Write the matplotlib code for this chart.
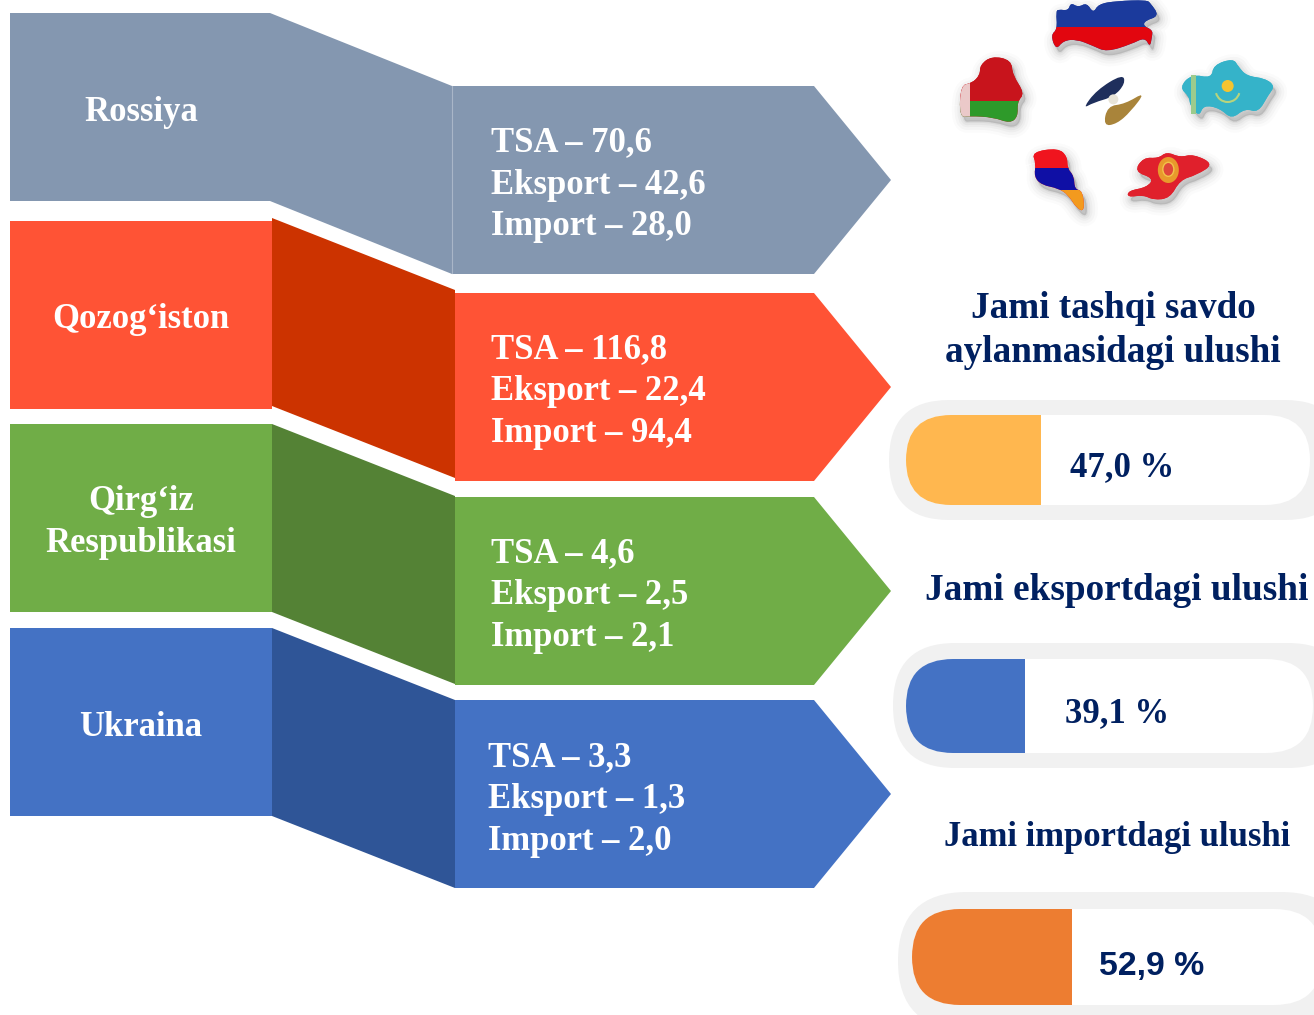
import matplotlib
matplotlib.use('Agg')
import matplotlib.pyplot as plt
from matplotlib.path import Path
from matplotlib.patches import Polygon, Rectangle, Circle, Ellipse, FancyBboxPatch, PathPatch, Arc

# --- data ---
countries = ['Rossiya', 'Qozog‘iston', 'Qirg‘iz\nRespublikasi', 'Ukraina']
tsa = [70.6, 116.8, 4.6, 3.3]
eksport = [42.6, 22.4, 2.5, 1.3]
imports = [28.0, 94.4, 2.1, 2.0]

share_titles = ['Jami tashqi savdo\naylanmasidagi ulushi', 'Jami eksportdagi ulushi', 'Jami importdagi ulushi']
shares = [47.0, 39.1, 52.9]

# --- colours ---
light = ['#8497B0', '#FF5335', '#70AD47', '#4472C4']
dark = ['#8497B0', '#CC3300', '#548235', '#2F5597']
share_colors = ['#FFB74F', '#4472C4', '#ED7D31']
navy = '#002060'
serif = 'Liberation Serif'


def comma(v):
    return f'{v:.1f}'.replace('.', ',')


fig = plt.figure(figsize=(13.14, 10.15), dpi=100)
ax = fig.add_axes([0, 0, 1, 1])
ax.set_xlim(0, 1314)
ax.set_ylim(1015, 0)
ax.axis('off')

# --- ribbons: left block, slanted band, arrow ---
rows = [
    dict(top=13, band=(13, 86), arrow=86, x0=452, rx=270, text_x=491, ys=(143, 185, 226), label_ys=(112,)),
    dict(top=221, band=(218, 290), arrow=293, x0=455, rx=272, text_x=491, ys=(350, 392, 434), label_ys=(320,)),
    dict(top=424, band=(424, 496), arrow=497, x0=455, rx=272, text_x=491, ys=(554, 596, 638), label_ys=(502, 544)),
    dict(top=628, band=(628, 700), arrow=700, x0=455, rx=272, text_x=488, ys=(758, 799, 841), label_ys=(727,)),
]
H = 188

for i, r in enumerate(rows):
    ax.add_patch(Rectangle((10, r['top']), r['rx'] - 10, H, fc=light[i], ec='none'))
    t0, t1 = r['band']
    ax.add_patch(Polygon([(r['rx'], t0), (r['x0'], t1), (r['x0'], t1 + H), (r['rx'], t0 + H)],
                         fc=dark[i], ec='none'))
    a = r['arrow']
    ax.add_patch(Polygon([(r['x0'], a), (814, a), (891, a + H / 2), (814, a + H), (r['x0'], a + H)],
                         fc=light[i], ec='none'))
    for y, part in zip(r['label_ys'], countries[i].split('\n')):
        ax.text(141, y, part, color='white', family=serif, weight='bold',
                fontsize=24.9, ha='center', va='center')
    lines = [f'TSA – {comma(tsa[i])}', f'Eksport – {comma(eksport[i])}', f'Import – {comma(imports[i])}']
    for y, line in zip(r['ys'], lines):
        ax.text(r['text_x'], y, line, color='white', family=serif, weight='bold',
                fontsize=24.9, ha='left', va='center')

ax.plot([452, 452], [86, 273], color='#A9B6C8', lw=0.8)

# --- share titles ---
first, second = share_titles[0].split('\n')
ax.text(1113, 308, first, color=navy, family=serif, weight='bold', fontsize=26.7, ha='center', va='center')
ax.text(1113, 353, second, color=navy, family=serif, weight='bold', fontsize=26.7, ha='center', va='center')
ax.text(1117, 590, share_titles[1], color=navy, family=serif, weight='bold', fontsize=26.8, ha='center', va='center')
ax.text(1117, 837, share_titles[2], color=navy, family=serif, weight='bold', fontsize=24.9, ha='center', va='center')


# --- share pills ---
def pill(x0, y0, x1, y1, rad, color):
    p = FancyBboxPatch((x0 + rad, y0 + rad), x1 - x0 - 2 * rad, y1 - y0 - 2 * rad,
                       boxstyle=f'round,pad={rad},rounding_size={rad}', fc=color, ec='none')
    ax.add_patch(p)
    return p


pills = [
    dict(outer=(889, 400, 1345, 520), inner=(906, 415, 1310, 505), scale=2.87, tx=1070, ty=468, r=(60, 45)),
    dict(outer=(893, 643, 1350, 768), inner=(906, 659, 1313, 753), scale=3.04, tx=1065, ty=714, r=(62, 47)),
    dict(outer=(898, 892, 1350, 1030), inner=(912, 909, 1322, 1005), scale=3.02, tx=1099, ty=966, r=(69, 48)),
]
for i, p in enumerate(pills):
    pill(*p['outer'], p['r'][0], '#F1F1F1')
    x0, y0, x1, y1 = p['inner']
    shape = pill(x0, y0, x1, y1, p['r'][1], 'white')
    fill = Rectangle((x0, y0), shares[i] * p['scale'], y1 - y0, fc=share_colors[i], ec='none')
    ax.add_patch(fill)
    fill.set_clip_path(shape)
    if i < 2:
        ax.text(p['tx'], p['ty'], f'{comma(shares[i])} %', color=navy, family=serif, weight='bold',
                fontsize=25, ha='left', va='center')
    else:
        ax.text(p['tx'], p['ty'], f'{comma(shares[i])} %', color=navy, family='Liberation Sans', weight='bold',
                fontsize=24.4, ha='left', va='center')


# --- flags picture, outlines (crop units: 3x from x=930, y=0) ---
def pt(q):
    return (930 + q[0] / 3, q[1] / 3)


def blob(outline, dx=0, dy=0):
    # closed quadratic spline through the traced corners, so the edges are not sharp
    pts = [(x + dx, y + dy) for x, y in map(pt, outline)]
    n = len(pts)
    mids = [((pts[k][0] + pts[(k + 1) % n][0]) / 2, (pts[k][1] + pts[(k + 1) % n][1]) / 2) for k in range(n)]
    verts = [mids[-1]]
    codes = [Path.MOVETO]
    for k in range(n):
        verts += [pts[k], mids[k]]
        codes += [Path.CURVE3, Path.CURVE3]
    return Path(verts, codes)


def map_flag(outline, bands):
    for lw, al in [(16, 0.02), (12, 0.03), (8, 0.04), (5, 0.05), (2, 0.07)]:
        ax.add_patch(PathPatch(blob(outline, 3, 5), fc='#444444', ec='#444444', lw=lw, alpha=al,
                               joinstyle='round'))
    shape = PathPatch(blob(outline), fc=bands[0][2], ec='none')
    ax.add_patch(shape)
    for top, bottom, col in bands:
        b = Rectangle((930, top / 3), 384, (bottom - top) / 3, fc=col, ec='none')
        ax.add_patch(b)
        b.set_clip_path(shape)
    return shape


russia = [(378, 35), (385, 28), (415, 32), (422, 8), (445, 22), (470, 8), (490, 40), (505, 12), (560, 3), (650, 0),
          (662, 10), (688, 48), (645, 62), (640, 78), (668, 90), (666, 110), (660, 142), (645, 112), (605, 132),
          (530, 156), (490, 138), (440, 118), (400, 122), (378, 150), (362, 105), (382, 88)]
map_flag(russia, [(0, 80, '#1B3A9C'), (80, 160, '#E2060F')])

belarus = [(92, 255), (125, 250), (150, 225), (150, 195), (185, 168), (244, 180), (248, 225), (284, 280), (262, 305),
           (264, 350), (240, 370), (190, 352), (120, 348), (88, 352)]
flag = map_flag(belarus, [(160, 303, '#C8141C'), (303, 375, '#2E9A2A')])
strip = Rectangle(pt((80, 240)), 40 / 3, 125 / 3, fc='#EBC9C9', ec='none')
ax.add_patch(strip)
strip.set_clip_path(flag)

kazakhstan = [(748, 262), (785, 222), (845, 235), (850, 195), (910, 175), (925, 200), (950, 228), (1005, 235), (1035, 258),
              (1015, 285), (985, 338), (945, 325), (905, 358), (870, 325), (820, 315), (808, 350), (780, 318), (778, 290)]
map_flag(kazakhstan, [(170, 360, '#35B3C9')])
ax.add_patch(Rectangle(pt((783, 224)), 14 / 3, 118 / 3, fc='#9CCB8C', ec='none'))
ax.add_patch(Circle(pt((893, 258)), 6, fc='#F4C430', ec='none'))
ax.add_patch(Arc(pt((893, 270)), 24, 24, theta1=15, theta2=165, ec='#B8D47C', lw=1.5))

armenia = [(305, 456), (385, 444), (412, 470), (412, 505), (432, 528), (434, 568), (458, 572), (464, 635), (440, 625),
           (415, 585), (385, 565), (335, 555), (312, 530), (318, 490)]
map_flag(armenia, [(440, 505, '#F0141E'), (505, 570, '#0F0FA5'), (570, 640, '#F39A1E')])

kyrgyz = [(612, 515), (640, 472), (685, 475), (710, 455), (750, 472), (790, 462), (852, 492), (800, 525), (750, 540),
          (720, 595), (670, 600), (640, 585), (592, 592), (595, 572), (650, 562), (672, 535)]
map_flag(kyrgyz, [(450, 600, '#E0202C')])
ax.add_patch(Ellipse(pt((715, 510)), 21, 26, fc='#E89A2C', ec='none'))
ax.add_patch(Ellipse(pt((715, 508)), 11, 14, fc='#E0483A', ec='#F2C34A', lw=1))

# EAEU emblem in the middle
ax.add_patch(PathPatch(blob([(458, 326), (500, 270), (578, 222), (586, 250), (552, 290), (490, 308)]),
                       fc='#1F2F5C', ec='none'))
ax.add_patch(PathPatch(blob([(520, 378), (532, 318), (585, 312), (648, 274), (602, 335), (560, 372)]),
                       fc='#A9843A', ec='none'))
ax.add_patch(Circle(pt((550, 298)), 5, fc='#E8E4D8', ec='none'))

fig.savefig('out.png', dpi=100, facecolor='white')
